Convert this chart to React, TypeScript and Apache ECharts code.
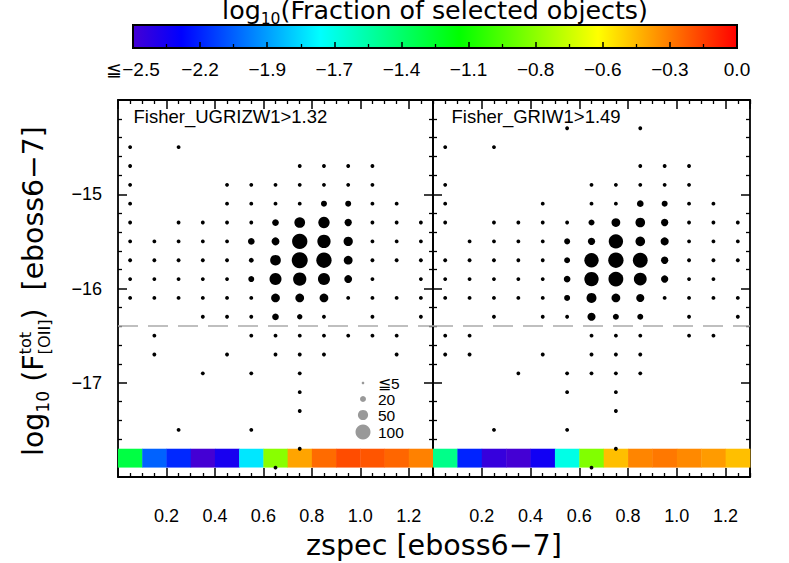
import React, { useEffect, useRef } from "react";
import * as echarts from "echarts";

const FONT = '"Liberation Sans", Arial, Helvetica, sans-serif';
const TITLE_FONT = '"DejaVu Sans", "Liberation Sans", sans-serif';

// redshift bin centres (x) of the 2D histogram
const zBins = [0.05, 0.15, 0.25, 0.35, 0.45, 0.55, 0.65, 0.75, 0.85, 0.95, 1.05, 1.15, 1.25];
const xTickLabels = ["0.2", "0.4", "0.6", "0.8", "1.0", "1.2"];
const yTickValues = [-15, -16, -17];
const yTickLabels = ["\u221215", "\u221216", "\u221217"];
const colorbarLabels = ["\u2266\u22122.5", "\u22122.2", "\u22121.9", "\u22121.7", "\u22121.4", "\u22121.1", "\u22120.8", "\u22120.6", "\u22120.3", "0.0"];
const legendCounts = [5, 20, 50, 100];
const legendLabels = ["\u22665", "20", "50", "100"];
const panelTitles = ["Fisher_UGRIZW1>1.32", "Fisher_GRIW1>1.49"];
const fluxLimit = -16.4;

// log10(fraction of selected objects) per redshift bin (bottom colour strips)
const leftStrip = [-1.3, -2.08, -2.21, -2.5, -2.37, -1.78, -0.84, -0.37, -0.24, -0.17, -0.19, -0.23, -0.29];
const rightStrip = [-1.46, -2.22, -2.46, -2.5, -2.35, -1.67, -0.86, -0.43, -0.3, -0.27, -0.31, -0.35, -0.43];

// colour table of the colour bar (position 0..1 over -2.5..0)
const cmapStops = [0, 0.08, 0.31, 0.54, 0.77, 1];
const cmapColors = ["#4400d4", "#0000ff", "#00ffff", "#00ff00", "#ffff00", "#ff0000"];

// [zspec, log10 F, number of objects]
const leftPoints: number[][] = [
  [0.05, -14.5, 10], [0.25, -14.5, 10],
  [0.05, -14.7, 10], [0.75, -14.7, 10], [0.85, -14.7, 10], [0.95, -14.7, 10], [1.05, -14.7, 10],
  [0.05, -14.9, 10], [0.45, -14.9, 10], [0.55, -14.9, 10], [0.65, -14.9, 10], [0.75, -14.9, 10], [0.85, -14.9, 10], [0.95, -14.9, 10], [1.05, -14.9, 10],
  [0.05, -15.1, 10], [0.45, -15.1, 10], [0.55, -15.1, 10], [0.65, -15.1, 10], [0.75, -15.1, 10], [0.85, -15.1, 20], [0.95, -15.1, 20], [1.05, -15.1, 10], [1.15, -15.1, 10],
  [0.05, -15.3, 10], [0.25, -15.3, 10], [0.35, -15.3, 10], [0.45, -15.3, 10], [0.55, -15.3, 10], [0.65, -15.3, 24], [0.75, -15.3, 54], [0.85, -15.3, 60], [0.95, -15.3, 28], [1.05, -15.3, 10], [1.15, -15.3, 10], [1.25, -15.3, 10],
  [0.05, -15.5, 10], [0.15, -15.5, 10], [0.25, -15.5, 10], [0.35, -15.5, 10], [0.45, -15.5, 10], [0.55, -15.5, 24], [0.65, -15.5, 32], [0.75, -15.5, 104], [0.85, -15.5, 80], [0.95, -15.5, 42], [1.05, -15.5, 10], [1.15, -15.5, 10], [1.25, -15.5, 10],
  [0.05, -15.7, 10], [0.15, -15.7, 10], [0.25, -15.7, 10], [0.35, -15.7, 10], [0.45, -15.7, 10], [0.55, -15.7, 14], [0.65, -15.7, 54], [0.75, -15.7, 113], [0.85, -15.7, 104], [0.95, -15.7, 38], [1.05, -15.7, 10], [1.15, -15.7, 10], [1.25, -15.7, 10],
  [0.05, -15.9, 10], [0.15, -15.9, 10], [0.25, -15.9, 10], [0.35, -15.9, 10], [0.45, -15.9, 10], [0.55, -15.9, 20], [0.65, -15.9, 67], [0.75, -15.9, 80], [0.85, -15.9, 67], [0.95, -15.9, 32], [1.05, -15.9, 10], [1.25, -15.9, 10],
  [0.05, -16.1, 10], [0.15, -16.1, 10], [0.25, -16.1, 10], [0.35, -16.1, 10], [0.45, -16.1, 10], [0.55, -16.1, 10], [0.65, -16.1, 38], [0.75, -16.1, 38], [0.85, -16.1, 38], [0.95, -16.1, 10], [1.05, -16.1, 10], [1.15, -16.1, 10], [1.25, -16.1, 10],
  [0.35, -16.3, 10], [0.45, -16.3, 10], [0.55, -16.3, 10], [0.65, -16.3, 24], [0.75, -16.3, 17], [0.85, -16.3, 10], [1.05, -16.3, 10], [1.25, -16.3, 10],
  [0.15, -16.5, 10], [0.55, -16.5, 10], [0.65, -16.5, 10], [0.75, -16.5, 10], [0.85, -16.5, 10], [0.95, -16.5, 10], [1.05, -16.5, 10], [1.15, -16.5, 10],
  [0.15, -16.7, 10], [0.45, -16.7, 10], [0.65, -16.7, 10], [0.75, -16.7, 10], [0.85, -16.7, 10], [1.15, -16.7, 10],
  [0.35, -16.9, 10], [0.55, -16.9, 10], [0.75, -16.9, 10],
  [0.75, -17.1, 10],
  [0.75, -17.3, 10],
  [0.25, -17.5, 10], [0.55, -17.5, 10],
  [0.75, -17.7, 10],
  [0.65, -17.9, 10],
];

const rightPoints: number[][] = [
  [0.55, -14.3, 10], [0.85, -14.3, 10],
  [0.05, -14.5, 10], [0.25, -14.5, 10],
  [0.85, -14.7, 10], [0.95, -14.7, 10], [1.05, -14.7, 10],
  [0.05, -14.9, 10], [0.65, -14.9, 10], [0.75, -14.9, 10], [0.85, -14.9, 10], [0.95, -14.9, 10], [1.05, -14.9, 10],
  [0.05, -15.1, 10], [0.45, -15.1, 10], [0.65, -15.1, 10], [0.75, -15.1, 10], [0.85, -15.1, 24], [0.95, -15.1, 20], [1.05, -15.1, 10], [1.15, -15.1, 10],
  [0.05, -15.3, 10], [0.25, -15.3, 10], [0.35, -15.3, 10], [0.45, -15.3, 10], [0.55, -15.3, 10], [0.65, -15.3, 20], [0.75, -15.3, 38], [0.85, -15.3, 45], [0.95, -15.3, 28], [1.05, -15.3, 10], [1.15, -15.3, 10], [1.25, -15.3, 10],
  [0.15, -15.5, 10], [0.25, -15.5, 10], [0.35, -15.5, 10], [0.45, -15.5, 10], [0.55, -15.5, 20], [0.65, -15.5, 28], [0.75, -15.5, 92], [0.85, -15.5, 45], [0.95, -15.5, 33], [1.05, -15.5, 10], [1.15, -15.5, 10], [1.25, -15.5, 10],
  [0.05, -15.7, 10], [0.15, -15.7, 10], [0.25, -15.7, 10], [0.35, -15.7, 10], [0.45, -15.7, 10], [0.55, -15.7, 20], [0.65, -15.7, 92], [0.75, -15.7, 104], [0.85, -15.7, 98], [0.95, -15.7, 28], [1.05, -15.7, 10], [1.15, -15.7, 10], [1.25, -15.7, 10],
  [0.05, -15.9, 10], [0.15, -15.9, 10], [0.25, -15.9, 10], [0.35, -15.9, 10], [0.45, -15.9, 10], [0.55, -15.9, 24], [0.65, -15.9, 92], [0.75, -15.9, 98], [0.85, -15.9, 75], [0.95, -15.9, 28], [1.05, -15.9, 10], [1.15, -15.9, 10],
  [0.05, -16.1, 10], [0.15, -16.1, 10], [0.25, -16.1, 10], [0.35, -16.1, 10], [0.45, -16.1, 10], [0.55, -16.1, 20], [0.65, -16.1, 48], [0.75, -16.1, 38], [0.85, -16.1, 33], [0.95, -16.1, 10], [1.05, -16.1, 10], [1.15, -16.1, 10], [1.25, -16.1, 10],
  [0.25, -16.3, 10], [0.45, -16.3, 10], [0.55, -16.3, 10], [0.65, -16.3, 33], [0.75, -16.3, 20], [0.85, -16.3, 20], [1.05, -16.3, 10], [1.25, -16.3, 10],
  [0.05, -16.5, 10], [0.15, -16.5, 10], [0.65, -16.5, 10], [0.75, -16.5, 10], [0.85, -16.5, 10], [1.05, -16.5, 10], [1.15, -16.5, 10],
  [0.05, -16.7, 10], [0.15, -16.7, 10], [0.45, -16.7, 10], [0.65, -16.7, 10], [0.75, -16.7, 10], [0.85, -16.7, 10],
  [0.35, -16.9, 10], [0.55, -16.9, 10], [0.65, -16.9, 10], [0.75, -16.9, 10], [0.85, -16.9, 10],
  [0.55, -17.1, 10], [0.75, -17.1, 10],
  [0.75, -17.3, 10],
  [0.25, -17.5, 10], [0.55, -17.5, 10],
  [0.75, -17.7, 10],
  [0.65, -17.9, 10],
];

// layout constants
const STRIP_TOP = -17.7;
const STRIP_BOTTOM = -17.9;
const BIN_HALF = 0.05;
const CB = { x: 133, y: 25, w: 604, h: 23 };

function dotSize(n: number): number {
  return Math.max(2.6, 1.63 * Math.sqrt(n) - 1.3);
}

function hexToRgb(h: string): number[] {
  return [parseInt(h.slice(1, 3), 16), parseInt(h.slice(3, 5), 16), parseInt(h.slice(5, 7), 16)];
}
function cmap(p: number): string {
  const q = Math.min(1, Math.max(0, p));
  let k = 0;
  while (k < cmapStops.length - 2 && q > cmapStops[k + 1]) k++;
  const t = (q - cmapStops[k]) / (cmapStops[k + 1] - cmapStops[k]);
  const a = hexToRgb(cmapColors[k]);
  const b = hexToRgb(cmapColors[k + 1]);
  const c = a.map((v, i) => Math.round(v + (b[i] - v) * t));
  return `rgb(${c[0]},${c[1]},${c[2]})`;
}

type Piece = { t: string; s: number; dy?: number; overlay?: boolean };
function measure(text: string, size: number, family: string): number {
  const ctx = document.createElement("canvas").getContext("2d");
  if (!ctx) return text.length * size * 0.55;
  ctx.font = `${size}px ${family}`;
  return ctx.measureText(text).width;
}
function buildLine(pieces: Piece[], family: string, target: number): any[] {
  const lay = (k: number) => {
    let cur = 0;
    let pend = 0;
    const out: any[] = [];
    pieces.forEach((p) => {
      const w = measure(p.t, p.s * k, family);
      out.push({ x: cur, p, size: p.s * k, dy: (p.dy || 0) * k });
      if (p.overlay) {
        pend = Math.max(pend, w);
      } else {
        cur += Math.max(w, pend);
        pend = 0;
      }
    });
    return { out, total: cur };
  };
  const first = lay(1);
  const k = target / first.total;
  const fin = lay(k);
  return fin.out.map((o) => ({
    type: "text",
    x: o.x - fin.total / 2,
    y: o.dy,
    style: {
      text: o.p.t,
      fontSize: o.size,
      fontFamily: family,
      fill: "#000",
      align: "left",
      verticalAlign: "middle",
      textAlign: "left",
      textVerticalAlign: "middle",
    },
  }));
}

const axisLineStyle = { color: "#000", width: 1.8 };

function xAxisDef(grid: number, pos: string, labels: boolean) {
  return {
    type: "value",
    gridIndex: grid,
    position: pos,
    min: 0,
    max: 1.3,
    interval: 0.2,
    axisLine: { show: true, onZero: false, lineStyle: axisLineStyle },
    axisTick: { show: true, inside: true, length: 9, lineStyle: { color: "#000", width: 1.5 } },
    minorTick: { show: true, splitNumber: 4, length: 4, lineStyle: { color: "#000", width: 1.3 } },
    splitLine: { show: false },
    minorSplitLine: { show: false },
    axisLabel: labels
      ? {
          show: true,
          margin: 30,
          fontSize: 18,
          color: "#000",
          fontFamily: FONT,
          formatter: (v: number) => {
            const s = v.toFixed(1);
            return xTickLabels.indexOf(s) >= 0 ? s : "";
          },
        }
      : { show: false },
  };
}

function yAxisDef(grid: number, pos: string, labels: boolean) {
  return {
    type: "value",
    gridIndex: grid,
    position: pos,
    min: -18,
    max: -14,
    interval: 1,
    axisLine: { show: true, onZero: false, lineStyle: axisLineStyle },
    axisTick: { show: true, inside: true, length: 9, lineStyle: { color: "#000", width: 1.5 } },
    minorTick: { show: true, splitNumber: 5, length: 4, lineStyle: { color: "#000", width: 1.3 } },
    splitLine: { show: false },
    minorSplitLine: { show: false },
    axisLabel: labels
      ? {
          show: true,
          margin: 16,
          fontSize: 18,
          color: "#000",
          fontFamily: FONT,
          formatter: (v: number) => {
            const i = yTickValues.indexOf(Math.round(v));
            return i >= 0 && Math.abs(v - Math.round(v)) < 1e-6 ? yTickLabels[i] : "";
          },
        }
      : { show: false },
  };
}

function scatterSeries(points: number[][], axis: number) {
  return {
    type: "scatter",
    xAxisIndex: axis * 2,
    yAxisIndex: axis * 2,
    z: 3,
    silent: true,
    data: points,
    symbol: "circle",
    symbolSize: (v: number[]) => dotSize(v[2]),
    itemStyle: { color: "#000", opacity: 1 },
    emphasis: { disabled: true },
    markLine: {
      silent: true,
      symbol: ["none", "none"],
      label: { show: false },
      emphasis: { disabled: true },
      lineStyle: { color: "#aaaaaa", width: 1.6, type: [20, 10], opacity: 1 },
      data: [{ yAxis: fluxLimit }],
    },
  };
}

function stripSeries(values: number[], axis: number) {
  return {
    type: "custom",
    xAxisIndex: axis * 2,
    yAxisIndex: axis * 2,
    z: 2,
    silent: true,
    data: zBins.map((z, i) => [z, (STRIP_TOP + STRIP_BOTTOM) / 2, values[i]]),
    encode: { x: 0, y: 1 },
    renderItem: (_params: any, api: any) => {
      const z = api.value(0) as number;
      const a = api.coord([z - BIN_HALF, STRIP_TOP]);
      const b = api.coord([z + BIN_HALF, STRIP_BOTTOM]);
      return {
        type: "rect",
        shape: { x: a[0], y: a[1], width: b[0] - a[0] + 0.4, height: b[1] - a[1] },
        style: { fill: api.visual("color") },
      };
    },
  };
}

export default function App() {
  const ref = useRef<HTMLDivElement>(null);
  useEffect(() => {
    if (!ref.current) return;
    const chart = echarts.init(ref.current, undefined, { renderer: "svg" });

    const sampled: string[] = [];
    for (let k = 0; k <= 50; k++) sampled.push(cmap(k / 50));
    const gradStops = cmapStops.map((p, i) => ({ offset: p, color: cmapColors[i] }));

    const title = buildLine(
      [
        { t: "log", s: 26 },
        { t: "10", s: 16, dy: 9 },
        { t: "(Fraction of selected objects)", s: 26 },
      ],
      TITLE_FONT,
      426
    );
    const xTitle = buildLine([{ t: "zspec [eboss6\u22127]", s: 28 }], TITLE_FONT, 256);
    const yTitle = buildLine(
      [
        { t: "log", s: 28 },
        { t: "10", s: 17, dy: 10 },
        { t: " (F", s: 28 },
        { t: "tot", s: 16, dy: -7, overlay: true },
        { t: "[OII]", s: 16, dy: 11 },
        { t: ")  [eboss6\u22127]", s: 28 },
      ],
      TITLE_FONT,
      330
    );

    const legendYs = [383, 399, 415, 432];
    const legend: any[] = [];
    legendCounts.forEach((n, i) => {
      legend.push({
        type: "circle",
        shape: { cx: 363, cy: legendYs[i], r: dotSize(n) / 2 },
        style: { fill: "#999999" },
        z: 10,
      });
      legend.push({
        type: "text",
        x: 378,
        y: legendYs[i],
        z: 10,
        style: {
          text: legendLabels[i],
          fontSize: 15.5,
          fontFamily: FONT,
          fill: "#000",
          align: "left",
          verticalAlign: "middle",
          textAlign: "left",
          textVerticalAlign: "middle",
        },
      });
    });

    const cbInterval = 2.5 / 9;

    const option: any = {
      animation: false,
      backgroundColor: "#ffffff",
      grid: [
        { left: 118, top: 100, width: 315, height: 377 },
        { left: 433, top: 100, width: 317, height: 377 },
        { left: CB.x, top: CB.y, width: CB.w, height: CB.h },
      ],
      xAxis: [
        xAxisDef(0, "bottom", true),
        xAxisDef(0, "top", false),
        xAxisDef(1, "bottom", true),
        xAxisDef(1, "top", false),
        {
          type: "value",
          gridIndex: 2,
          position: "bottom",
          min: -2.5,
          max: 0,
          interval: cbInterval,
          axisLine: { show: false },
          axisTick: { show: true, inside: true, length: 6, lineStyle: { color: "#000", width: 1.5 } },
          minorTick: { show: true, splitNumber: 2, length: 4, lineStyle: { color: "#000", width: 1.3 } },
          splitLine: { show: false },
          axisLabel: {
            show: true,
            margin: 12,
            fontSize: 19,
            color: "#000",
            fontFamily: FONT,
            formatter: (v: number) => {
              const i = Math.round((v + 2.5) / cbInterval);
              return colorbarLabels[i] ?? "";
            },
          },
        },
      ],
      yAxis: [
        yAxisDef(0, "left", true),
        yAxisDef(0, "right", false),
        yAxisDef(1, "left", false),
        yAxisDef(1, "right", false),
        { type: "value", gridIndex: 2, show: false, min: 0, max: 1 },
      ],
      visualMap: [
        {
          type: "continuous",
          show: false,
          min: -2.5,
          max: 0,
          dimension: 2,
          seriesIndex: [2, 3],
          inRange: { color: sampled },
        },
      ],
      series: [
        scatterSeries(leftPoints, 0),
        scatterSeries(rightPoints, 1),
        stripSeries(leftStrip, 0),
        stripSeries(rightStrip, 1),
      ],
      graphic: [
        {
          type: "rect",
          z: -1,
          shape: { x: CB.x, y: CB.y, width: CB.w, height: CB.h },
          style: {
            fill: { type: "linear", x: 0, y: 0, x2: 1, y2: 0, colorStops: gradStops },
            stroke: "#000",
            lineWidth: 2,
          },
        },
        { type: "group", x: 435, y: 10, children: title },
        { type: "group", x: 434, y: 545, children: xTitle },
        { type: "group", x: 33, y: 291, rotation: Math.PI / 2, children: yTitle },
        {
          type: "text",
          x: 133.5,
          y: 116,
          z: 10,
          style: {
            text: panelTitles[0],
            fontSize: 18.5,
            fontFamily: FONT,
            fill: "#000",
            align: "left",
            verticalAlign: "middle",
            textAlign: "left",
            textVerticalAlign: "middle",
          },
        },
        {
          type: "text",
          x: 451.5,
          y: 116,
          z: 10,
          style: {
            text: panelTitles[1],
            fontSize: 18.5,
            fontFamily: FONT,
            fill: "#000",
            align: "left",
            verticalAlign: "middle",
            textAlign: "left",
            textVerticalAlign: "middle",
          },
        },
        ...legend,
      ],
    };
    chart.setOption(option);
    return () => chart.dispose();
  }, []);
  return (
    <div
      ref={ref}
      style={{ position: "fixed", left: 0, top: 0, width: 789, height: 563, background: "#fff" }}
    />
  );
}
